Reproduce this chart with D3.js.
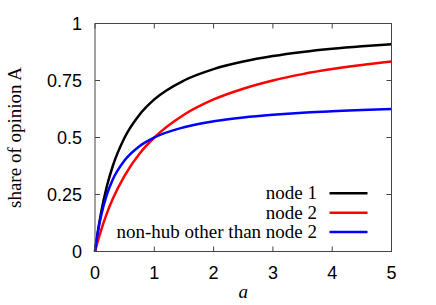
<!DOCTYPE html>
<html>
<head>
<meta charset="utf-8">
<script src="https://cdn.jsdelivr.net/npm/d3@7"></script>
<style>
  body { margin: 0; background: #fff; }
  .tick-label { font-family: "Liberation Sans", Arial, sans-serif; font-size: 18px; fill: #000; }
  .serif { font-family: "Liberation Serif", "Times New Roman", serif; font-size: 19px; fill: #000; }
</style>
</head>
<body>
<svg width="436" height="305"></svg>
<script>
// values
const aValues  = [0, 0.05, 0.1, 0.2, 0.3, 0.5, 0.75, 1, 1.5, 2, 2.5, 3, 3.5, 4, 4.5, 5];
const node1    = [0, 0.091, 0.167, 0.286, 0.375, 0.5, 0.6, 0.667, 0.75, 0.8, 0.833, 0.857, 0.875, 0.889, 0.9, 0.909];
const node2    = [0, 0.048, 0.091, 0.167, 0.231, 0.333, 0.429, 0.5, 0.6, 0.667, 0.714, 0.75, 0.778, 0.8, 0.818, 0.833];
const nonHub   = [0, 0.087, 0.154, 0.25, 0.316, 0.4, 0.462, 0.5, 0.545, 0.571, 0.588, 0.6, 0.609, 0.615, 0.621, 0.625];

const xTicks = [0, 1, 2, 3, 4, 5];
const yTicks = [0, 0.25, 0.5, 0.75, 1];
const yTickLabels = ["0", "0.25", "0.5", "0.75", "1"];

const series = [
  {name: "node 1", values: node1, color: "#000000"},
  {name: "node 2", values: node2, color: "#ff0000"},
  {name: "non-hub other than node 2", values: nonHub, color: "#0000ff"}
];

const svg = d3.select("svg");
const margin = {left: 95, right: 44.5, top: 23.5, bottom: 53.5};
const width  = +svg.attr("width");
const height = +svg.attr("height");

const x = d3.scaleLinear().domain([0, 5]).range([margin.left, width - margin.right]);
const y = d3.scaleLinear().domain([0, 1]).range([height - margin.bottom, margin.top]);

const line = d3.line()
  .curve(d3.curveMonotoneX)
  .x(d => x(d[0]))
  .y(d => y(d[1]));

// curves
const curves = svg.append("g");
series.forEach(function(s) {
  curves.append("path")
    .datum(aValues.map((a, i) => [a, s.values[i]]))
    .attr("d", line)
    .attr("fill", "none")
    .attr("stroke", s.color)
    .attr("stroke-width", 2.5);
});

// frame with inward ticks on all sides
const frame = svg.append("g").attr("stroke", "#444").attr("stroke-width", 1).attr("fill", "none");
frame.append("rect")
  .attr("x", x(0)).attr("y", y(1))
  .attr("width", x(5) - x(0)).attr("height", y(0) - y(1));

const tickLen = 5;
xTicks.forEach(function(t) {
  frame.append("line").attr("x1", x(t)).attr("x2", x(t)).attr("y1", y(0)).attr("y2", y(0) - tickLen);
  frame.append("line").attr("x1", x(t)).attr("x2", x(t)).attr("y1", y(1)).attr("y2", y(1) + tickLen);
});
yTicks.forEach(function(t) {
  frame.append("line").attr("x1", x(0)).attr("x2", x(0) + tickLen).attr("y1", y(t)).attr("y2", y(t));
  frame.append("line").attr("x1", x(5)).attr("x2", x(5) - tickLen).attr("y1", y(t)).attr("y2", y(t));
});

// tick labels
svg.selectAll("text.xlab")
  .data(xTicks)
  .enter()
  .append("text")
  .attr("class", "tick-label")
  .attr("x", d => x(d))
  .attr("y", y(0) + 27)
  .attr("text-anchor", "middle")
  .text(d => d);

svg.selectAll("text.ylab")
  .data(yTicks)
  .enter()
  .append("text")
  .attr("class", "tick-label")
  .attr("x", x(0) - 13)
  .attr("y", d => y(d) + 6.5)
  .attr("text-anchor", "end")
  .text((d, i) => yTickLabels[i]);

// axis titles
svg.append("text")
  .attr("class", "serif")
  .attr("x", x(2.5))
  .attr("y", 298)
  .attr("text-anchor", "middle")
  .attr("font-style", "italic")
  .text("a");

svg.append("text")
  .attr("class", "serif")
  .attr("transform", "translate(21," + ((y(0) + y(1)) / 2) + ") rotate(-90)")
  .attr("text-anchor", "middle")
  .text("share of opinion A");

// legend
const legend = svg.append("g");
series.forEach(function(s, i) {
  const ly = 193.3 + i * 19.4;
  legend.append("text")
    .attr("class", "serif")
    .attr("x", 317)
    .attr("y", ly + 6)
    .attr("text-anchor", "end")
    .text(s.name);
  legend.append("line")
    .attr("x1", 329.5).attr("x2", 367.5)
    .attr("y1", ly).attr("y2", ly)
    .attr("stroke", s.color)
    .attr("stroke-width", 2.5);
});
</script>
</body>
</html>
